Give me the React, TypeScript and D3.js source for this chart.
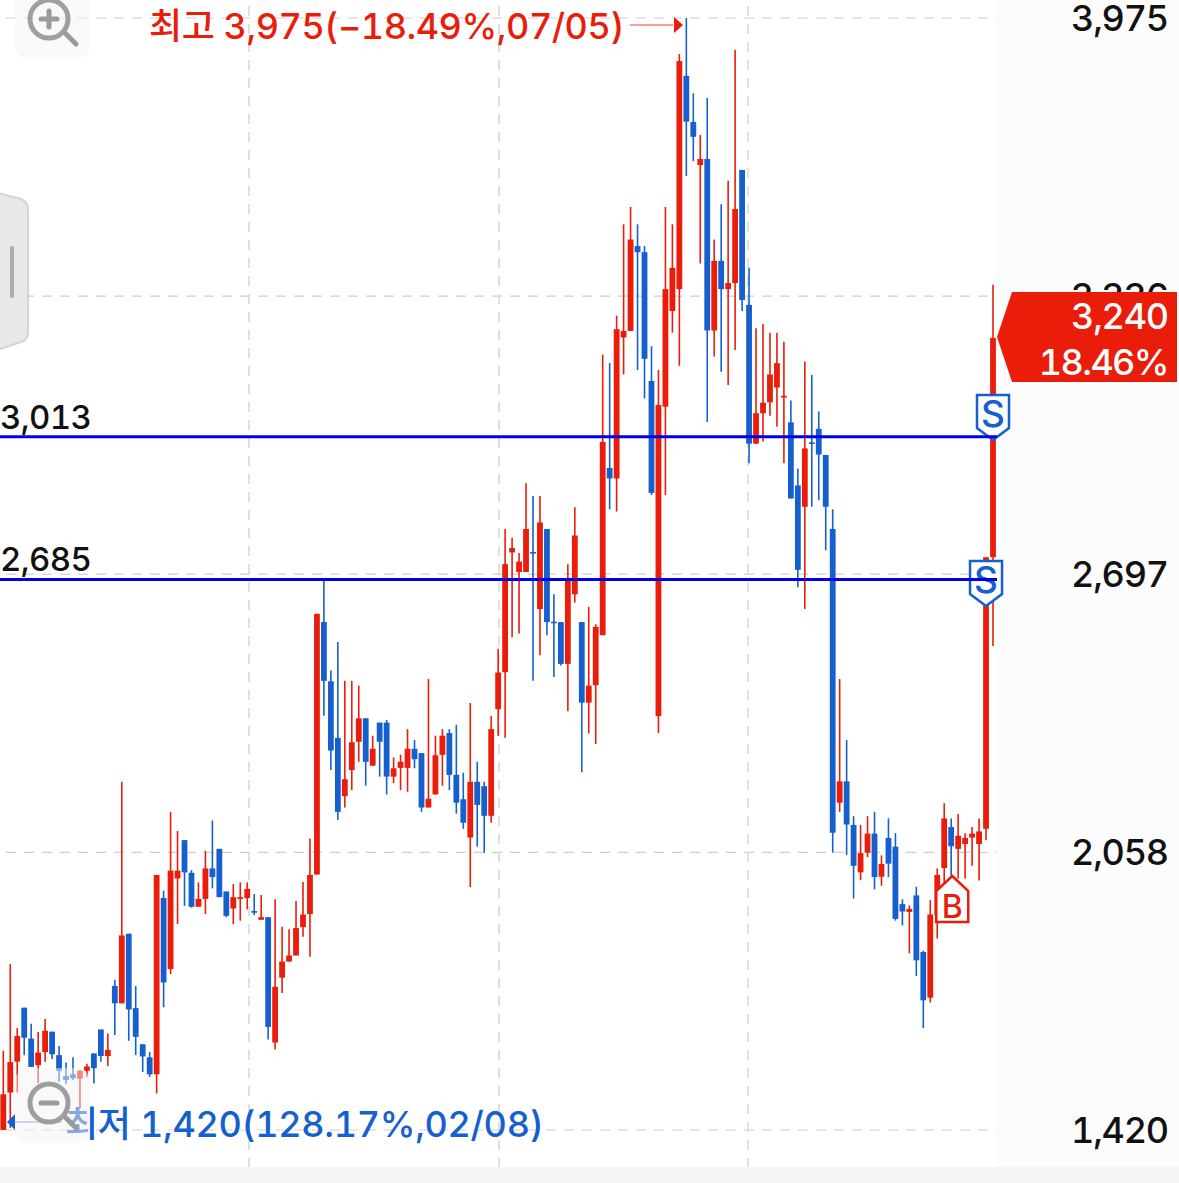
import React, { useEffect, useRef } from 'react';
import * as d3 from 'd3';

const opens = [1420,1506,1577,1701,1630,1569,1599,1646,1592,1544,1548,1538,1556,1596,1651,1590,1751,1711,1871,1700,1617,1587,1548,1953,1790,1998,2086,2011,1933,1951,2021,2066,1968,1929,1951,1953,1923,1903,1909,1621,1770,1807,1821,1886,1916,2007,2587,2451,2321,2187,2247,2312,2366,2257,2356,2356,2232,2252,2252,2296,2286,2161,2191,2282,2332,2236,2180,2092,2220,2210,2142,2387,2472,2747,2702,2702,2748,2617,2801,2588,2587,2491,2651,2587,2402,2442,2557,2941,2917,3241,3256,3451,3437,3141,2371,3082,3302,3352,3842,3736,3637,3651,3257,3417,3352,3366,3626,3316,2997,3067,3092,3126,3103,3046,2901,2852,3000,3031,2971,2801,2172,2221,2121,2012,2057,2101,2002,2091,2071,1939,1921,1959,1829,1724,1914,2022,2116,2066,2077,2092,2077,2112,2736];
const highs = [1602,1801,1654,1701,1664,1645,1675,1646,1613,1575,1587,1558,1572,1596,1651,1642,1765,2220,1871,1751,1617,1599,2006,1970,2151,2107,2086,2017,1989,2061,2131,2066,1968,1985,1989,1989,1962,1960,1909,1950,1887,1881,1946,1990,2090,2606,2682,2476,2541,2452,2452,2441,2366,2326,2356,2362,2276,2282,2341,2316,2286,2456,2326,2341,2341,2351,2241,2401,2266,2220,2371,2526,2801,2781,2746,2906,2877,2877,2801,2651,2587,2720,2851,2587,2622,2582,3201,3182,3291,3501,3541,3501,3451,3221,3166,3541,3501,3892,3975,3802,3706,3791,3466,3547,3601,3902,3626,3401,3262,3272,3252,3252,3231,3096,2940,3186,3155,3071,2971,2846,2456,2316,2141,2121,2141,2151,2051,2136,2102,1950,1936,1979,1832,1948,2021,2171,2136,2146,2102,2116,2136,2736,3362];
const lows = [1420,1425,1506,1592,1565,1528,1577,1583,1531,1525,1535,1470,1542,1527,1577,1567,1638,1711,1625,1592,1553,1542,1504,1702,1778,1893,1935,1931,1933,1916,1975,1955,1909,1893,1901,1927,1914,1903,1628,1605,1735,1807,1821,1864,1818,2007,2372,2247,2132,2161,2201,2266,2211,2257,2232,2191,2217,2201,2197,2251,2151,2161,2191,2211,2201,2147,2112,1978,2071,2057,2126,2326,2321,2552,2561,2702,2452,2511,2557,2461,2487,2382,2632,2242,2331,2307,2557,2846,2841,3156,3256,3166,3101,2879,2332,2879,3252,3176,3612,3646,3411,3047,3197,3162,3132,3212,3302,2952,2997,3002,3061,3036,2952,2871,2667,2617,2852,2867,2752,2057,2151,2052,1952,1994,2047,1973,1981,2001,1901,1890,1826,1774,1654,1713,1860,1988,2002,1998,1998,2027,1993,2086,2532];
const closes = [1502,1576,1636,1632,1565,1598,1648,1594,1556,1535,1539,1556,1566,1562,1590,1604,1711,1867,1697,1634,1589,1548,2006,1759,2016,2016,2012,1933,1951,2021,2001,1955,1912,1955,1955,1974,1922,1909,1657,1749,1807,1821,1884,1915,2006,2606,2452,2292,2151,2226,2311,2366,2266,2296,2312,2232,2251,2266,2296,2272,2161,2181,2281,2326,2236,2172,2126,2220,2167,2142,2341,2471,2720,2757,2726,2801,2747,2816,2587,2587,2491,2684,2786,2402,2441,2576,3001,2917,3260,3256,3466,3437,3192,2884,3086,3352,3401,3876,3737,3702,3651,3257,3417,3352,3366,3536,3327,2997,3067,3091,3156,3182,3107,2871,2707,2986,2998,2972,2852,2103,2221,2122,2027,2056,2101,2001,2031,2032,1905,1922,1928,1810,1718,1915,2006,2136,2072,2096,2091,2101,2106,2736,3240];

const priceTicks = [3975, 3336, 2697, 2058, 1420];
const sellLevels = [3013, 2685];
const sellCandles = [142, 141];
const buyCandle = 134;
const highLabel = '최고 3,975(−18.49%,07/05)';
const lowLabel = '최저 1,420(128.17%,02/08)';
const lastPrice = '3,240';
const lastChange = '18.46%';

const RED = '#ea1c0a';
const BLUE = '#1560ce';
const FONT = 'Inter, "Noto Sans CJK KR", sans-serif';

const width = 1179;
const height = 1183;
const plotRight = 997;

const ZoomButton: React.FC<{ cy: number; plus?: boolean }> = ({ cy, plus }) => (
    <g>
        <rect x={15} y={cy - 35} width={75} height={75} rx={14} fill="#f4f4f4" fillOpacity={0.5} />
        <circle cx={49} cy={cy} r={19} fill="none" stroke="#9a9a9a" strokeWidth={5} strokeOpacity={0.95} />
        <line x1={66} y1={cy + 15} x2={76} y2={cy + 25} stroke="#9a9a9a" strokeWidth={5} strokeLinecap="round" />
        <line x1={41} y1={cy} x2={57} y2={cy} stroke="#9a9a9a" strokeWidth={5} strokeLinecap="round" />
        {plus && <line x1={49} y1={cy - 8} x2={49} y2={cy + 8} stroke="#9a9a9a" strokeWidth={5} strokeLinecap="round" />}
    </g>
);

const App: React.FC = () => {
    const chartRef = useRef<SVGGElement | null>(null);

    const xScale = d3.scaleLinear().domain([0, opens.length - 1]).range([3.3, 993]);
    const yScale = d3.scaleLinear().domain([1420, 3975]).range([1130, 18]);

    useEffect(() => {
        const g = d3.select(chartRef.current);
        g.selectAll('*').remove();

        const color = (i: number) => (closes[i] >= opens[i] ? RED : BLUE);

        // wicks first, bodies on top
        g.append('g')
            .selectAll('line')
            .data(d3.range(opens.length))
            .join('line')
            .attr('x1', (i) => xScale(i))
            .attr('x2', (i) => xScale(i))
            .attr('y1', (i) => yScale(highs[i]))
            .attr('y2', (i) => yScale(lows[i]))
            .attr('stroke', color)
            .attr('stroke-width', 1.6);

        g.append('g')
            .selectAll('rect')
            .data(d3.range(opens.length))
            .join('rect')
            .attr('x', (i) => xScale(i) - 2.9)
            .attr('width', 5.8)
            .attr('y', (i) => yScale(Math.max(opens[i], closes[i])))
            .attr('height', (i) => Math.max(1.6, Math.abs(yScale(opens[i]) - yScale(closes[i]))))
            .attr('fill', color);
    }, []);

    const shield = (cx: number, top: number) =>
        `M${cx - 16},${top} H${cx + 16} V${top + 33} L${cx},${top + 45} L${cx - 16},${top + 33} Z`;
    const house = (cx: number, top: number) =>
        `M${cx},${top} L${cx + 16},${top + 15} V${top + 46} H${cx - 16} V${top + 15} Z`;

    const sellTops = [395, 561];

    return (
        <svg
            width={width}
            height={height}
            style={{ position: 'absolute', left: 0, top: 0, background: '#fff', fontFamily: FONT, fontVariantNumeric: 'tabular-nums' }}
        >
            <rect x={plotRight} y={0} width={width - plotRight} height={height} fill="#fcfcfc" />
            <rect x={0} y={1167} width={width} height={16} fill="#f5f5f5" />

            {priceTicks.map((p) => (
                <line key={p} x1={6} x2={plotRight} y1={yScale(p)} y2={yScale(p)} stroke="#cfcfcf" strokeWidth={1.2} strokeDasharray="10 8" />
            ))}
            {[249, 499, 748].map((x) => (
                <line key={x} x1={x} x2={x} y1={6} y2={1167} stroke="#d6d6d6" strokeWidth={1.5} strokeDasharray="10 8" />
            ))}

            {priceTicks.map((p) => (
                <text key={p} x={1168} y={yScale(p) + 13} fontSize={36} fontWeight={500} letterSpacing={-1.2} textAnchor="end" fill="#111">
                    {d3.format(',')(p)}
                </text>
            ))}

            <g ref={chartRef} />

            <text x={149} y={39} fontSize={36} fontWeight={500} letterSpacing={-0.45} fill={RED}>{highLabel}</text>
            <line x1={630} x2={673} y1={25} y2={25} stroke={RED} strokeOpacity={0.55} strokeWidth={1.5} />
            <path d="M674,17 L683,25 L674,33 Z" fill={RED} />

            <text x={65} y={1137} fontSize={36} fontWeight={500} letterSpacing={-0.3} fill={BLUE}>{lowLabel}</text>
            <line x1={15} x2={62} y1={1122} y2={1122} stroke={BLUE} strokeOpacity={0.55} strokeWidth={1.5} />
            <path d="M15,1114 L7,1122 L15,1130 Z" fill={BLUE} />

            {sellLevels.map((lvl, k) => (
                <g key={lvl}>
                    <text x={0} y={yScale(lvl) - 8} fontSize={33} fontWeight={500} letterSpacing={-0.6} fill="#111">{d3.format(',')(lvl)}</text>
                    <path d={shield(xScale(sellCandles[k]), sellTops[k])} fill="#fff" stroke={BLUE} strokeWidth={2.5} />
                    <text x={xScale(sellCandles[k])} y={sellTops[k] + 32} fontSize={37} fontWeight={500} textAnchor="middle" fill={BLUE}>S</text>
                    <line x1={0} x2={plotRight} y1={yScale(lvl)} y2={yScale(lvl)} stroke="#0000e8" strokeWidth={3} />
                </g>
            ))}

            <path d={house(xScale(buyCandle) + 15, 876)} fill="#fff" stroke={RED} strokeWidth={2.5} />
            <text x={xScale(buyCandle) + 15} y={918} fontSize={32} fontWeight={500} textAnchor="middle" fill={RED}>B</text>

            <path d="M997,337 L1012,292 H1177 V382 H1012 Z" fill={RED} />
            <text x={1168} y={329} fontSize={36} fontWeight={500} letterSpacing={-1.2} textAnchor="end" fill="#fff">{lastPrice}</text>
            <text x={1168} y={375} fontSize={36} fontWeight={500} letterSpacing={-1.6} textAnchor="end" fill="#fff">{lastChange}</text>

            <ZoomButton cy={19} plus />
            <ZoomButton cy={1103} />

            <path
                d="M-6,192 L21,199 Q28,202 28,209 V333 Q28,340 21,342 L-6,351 Z"
                fill="#e8e8e8"
                stroke="#d4d4d4"
                strokeWidth={2}
            />
            <rect x={10} y={246} width={4} height={52} rx={2} fill="#adadad" />
        </svg>
    );
};

export default App;
